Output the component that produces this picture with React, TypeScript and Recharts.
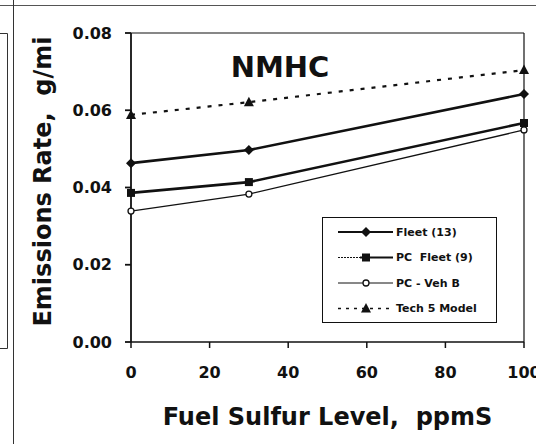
import React from "react";
import { LineChart, Line, XAxis, YAxis, ReferenceLine } from "recharts";

const SULFUR = [0, 30, 100];
const FLEET = [0.0463, 0.0497, 0.0642];
const PC_FLEET = [0.0386, 0.0414, 0.0567];
const PC_VEH_B = [0.0339, 0.0383, 0.0549];
const TECH5 = [0.0588, 0.0621, 0.0704];
const X_TICKS = [0, 20, 40, 60, 80, 100];
const Y_TICKS = [0, 0.02, 0.04, 0.06, 0.08];
const NAMES = ["Fleet (13)", "PC  Fleet (9)", "PC - Veh B", "Tech 5 Model"];

const FONT = "'DejaVu Sans', 'Liberation Sans', Arial, sans-serif";
const INK = "#111";

const data = SULFUR.map((s, i) => ({
  s,
  fleet: FLEET[i],
  pcFleet: PC_FLEET[i],
  vehB: PC_VEH_B[i],
  tech5: TECH5[i],
}));

type Shape = "diamond" | "square" | "circle" | "triangle";

function Marker({ cx, cy, shape }: { cx: number; cy: number; shape: Shape }) {
  if (cx == null || cy == null) return null;
  if (shape === "diamond")
    return <polygon points={`${cx},${cy - 5} ${cx + 5},${cy} ${cx},${cy + 5} ${cx - 5},${cy}`} fill={INK} />;
  if (shape === "square") return <rect x={cx - 4} y={cy - 4} width={8} height={8} fill={INK} />;
  if (shape === "circle") return <circle cx={cx} cy={cy} r={3} fill="#fff" stroke={INK} strokeWidth={1.3} />;
  return <polygon points={`${cx},${cy - 5.5} ${cx + 5},${cy + 4} ${cx - 5},${cy + 4}`} fill={INK} />;
}

const dotFor = (shape: Shape) => (p: any) => <Marker key={p.index} cx={p.cx} cy={p.cy} shape={shape} />;

const SERIES = [
  { key: "fleet", name: NAMES[0], width: 2.6, dash: undefined, shape: "diamond" as Shape },
  { key: "pcFleet", name: NAMES[1], width: 2.6, dash: undefined, shape: "square" as Shape },
  { key: "vehB", name: NAMES[2], width: 1.3, dash: undefined, shape: "circle" as Shape },
  { key: "tech5", name: NAMES[3], width: 2.2, dash: "4 7", shape: "triangle" as Shape },
];

function LegendBox() {
  return (
    <svg width={175} height={106} style={{ display: "block" }}>
      <rect x={0.5} y={0.5} width={174} height={105} fill="#fff" stroke={INK} strokeWidth={1} />
      {SERIES.map((s, i) => {
        const y = 15 + i * 25.5;
        return (
          <g key={s.key}>
            {s.key === "pcFleet" ? (
              <>
                <line x1={16} x2={38} y1={y} y2={y} stroke={INK} strokeWidth={1} strokeDasharray="2 1" />
                <line x1={38} x2={71} y1={y} y2={y} stroke={INK} strokeWidth={1.8} />
              </>
            ) : (
              <line
                x1={16}
                x2={71}
                y1={y}
                y2={y}
                stroke={INK}
                strokeWidth={s.key === "fleet" ? 1.8 : s.key === "tech5" ? 1.5 : 1}
                strokeDasharray={s.dash ? "3 5" : undefined}
              />
            )}
            <Marker cx={44} cy={y} shape={s.shape} />
            <text
              x={74}
              y={y}
              dominantBaseline="central"
              fontFamily={FONT}
              fontWeight="bold"
              fontSize={11}
              fill={INK}
              style={{ whiteSpace: "pre" }}
            >
              {s.name}
            </text>
          </g>
        );
      })}
    </svg>
  );
}

export default function App() {
  return (
    <div style={{ position: "absolute", left: 0, top: 0, width: 536, height: 444, background: "#fff", overflow: "hidden" }}>
      <LineChart width={536} height={444} data={data} margin={{ top: 33, right: 12, bottom: 0, left: 0 }}>
        <XAxis
          dataKey="s"
          type="number"
          domain={[0, 100]}
          ticks={X_TICKS}
          tickSize={6}
          tickMargin={19}
          height={102}
          stroke={INK}
          strokeWidth={1.5}
          tick={{ fill: INK, fontSize: 16, fontWeight: "bold", fontFamily: FONT }}
          label={(props: any) => {
            const vb = props.viewBox;
            return (
              <text
                x={vb.x + vb.width / 2}
                y={vb.y + 83}
                textAnchor="middle"
                fontFamily={FONT}
                fontWeight="bold"
                fontSize={24}
                fill={INK}
                style={{ whiteSpace: "pre" }}
              >
                Fuel Sulfur Level,  ppmS
              </text>
            );
          }}
        />
        <YAxis
          type="number"
          domain={[0, 0.08]}
          ticks={Y_TICKS}
          tickFormatter={(v: number) => v.toFixed(2)}
          width={131}
          tickSize={6}
          tickMargin={13}
          stroke={INK}
          strokeWidth={1.8}
          tick={{ fill: INK, fontSize: 16, fontWeight: "bold", fontFamily: FONT }}
          label={(props: any) => {
            const vb = props.viewBox;
            const cx = vb.x + 43;
            const cy = vb.y + vb.height / 2 - 6;
            return (
              <text
                x={cx}
                y={cy}
                transform={`rotate(-90 ${cx} ${cy})`}
                textAnchor="middle"
                dominantBaseline="central"
                fontFamily={FONT}
                fontWeight="bold"
                fontSize={24}
                fill={INK}
                style={{ whiteSpace: "pre" }}
              >
                Emissions Rate,  g/mi
              </text>
            );
          }}
        />
        <ReferenceLine y={0.08} stroke={INK} strokeWidth={1.2} />
        <ReferenceLine x={100} stroke={INK} strokeWidth={1.2} />
        {SERIES.map((s) => (
          <Line
            key={s.key}
            dataKey={s.key}
            name={s.name}
            type="linear"
            stroke={INK}
            strokeWidth={s.width}
            strokeDasharray={s.dash}
            dot={dotFor(s.shape)}
            activeDot={false}
            isAnimationActive={false}
          />
        ))}
      </LineChart>
      <div style={{ position: "absolute", left: 322, top: 217 }}>
        <LegendBox />
      </div>
      <svg width={536} height={444} style={{ position: "absolute", left: 0, top: 0, pointerEvents: "none" }}>
        <text x={280} y={77} textAnchor="middle" fontFamily={FONT} fontWeight="bold" fontSize={29} fill={INK}>
          NMHC
        </text>
        <line x1={0} x2={536} y1={5.5} y2={5.5} stroke="#555" strokeWidth={1} />
        <line x1={13.5} x2={13.5} y1={0} y2={444} stroke="#333" strokeWidth={1} />
        <polyline points="0,33.5 7.5,33.5 7.5,348.5 0,348.5" fill="none" stroke="#333" strokeWidth={1} />
      </svg>
    </div>
  );
}
